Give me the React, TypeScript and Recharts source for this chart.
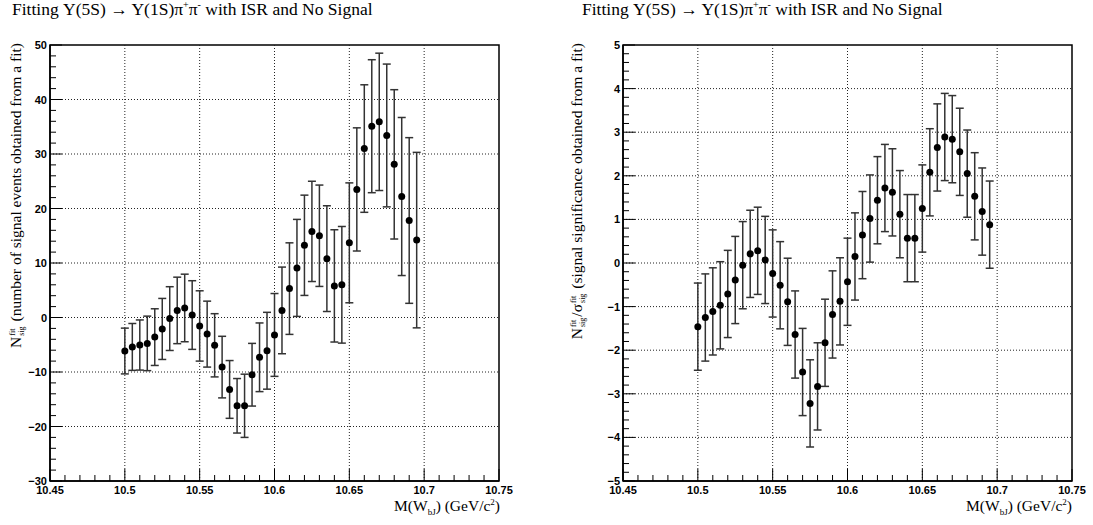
import React from "react";
import {
  ScatterChart,
  Scatter,
  XAxis,
  YAxis,
  ErrorBar,
  ReferenceLine,
  ReferenceArea,
} from "recharts";

// M(W_bJ) bin centres
const massBins = [
  10.5, 10.505, 10.51, 10.515, 10.52, 10.525, 10.53, 10.535, 10.54, 10.545,
  10.55, 10.555, 10.56, 10.565, 10.57, 10.575, 10.58, 10.585, 10.59, 10.595,
  10.6, 10.605, 10.61, 10.615, 10.62, 10.625, 10.63, 10.635, 10.64, 10.645,
  10.65, 10.655, 10.66, 10.665, 10.67, 10.675, 10.68, 10.685, 10.69, 10.695,
];

// N_sig^fit
const nsigValues = [
  -6.15, -5.4, -5.05, -4.75, -3.6, -2.1, -0.2, 1.3, 1.75, 0.45,
  -1.55, -3.05, -5.1, -9.1, -13.2, -16.2, -16.2, -10.5, -7.3, -6.1,
  -3.2, 1.3, 5.3, 9.1, 13.25, 15.8, 15.0, 10.8, 5.8, 6.0,
  13.7, 23.5, 31.0, 35.1, 35.9, 33.4, 28.1, 22.2, 17.8, 14.2,
];
const nsigErrors = [
  4.2, 4.3, 4.6, 5.0, 5.2, 5.6, 5.85, 6.1, 6.2, 6.3,
  6.45, 6.05, 5.8, 5.65, 5.3, 5.0, 5.8, 5.75, 6.3, 7.05,
  7.6, 7.95, 8.4, 8.9, 9.2, 9.2, 9.3, 9.7, 10.3, 10.7,
  11.0, 11.3, 11.7, 12.2, 12.6, 13.1, 13.7, 14.5, 15.2, 16.1,
];

// N_sig^fit / sigma_sig^fit
const signifValues = [
  -1.46, -1.25, -1.11, -0.97, -0.71, -0.39, -0.05, 0.21, 0.28, 0.07,
  -0.24, -0.51, -0.89, -1.64, -2.5, -3.22, -2.83, -1.83, -1.18, -0.88,
  -0.43, 0.15, 0.64, 1.02, 1.44, 1.72, 1.62, 1.12, 0.57, 0.57,
  1.25, 2.08, 2.65, 2.89, 2.84, 2.55, 2.05, 1.53, 1.18, 0.88,
];
const signifErrors = [
  1, 1, 1, 1, 1, 1, 1, 1, 1, 1,
  1, 1, 1, 1, 1, 1, 1, 1, 1, 1,
  1, 1, 1, 1, 1, 1, 1, 1, 1, 1,
  1, 1, 1, 1, 1, 1, 1, 1, 1, 1,
];

const xMajorTicks = [10.45, 10.5, 10.55, 10.6, 10.65, 10.7, 10.75];
const nsigMajorTicks = [-30, -20, -10, 0, 10, 20, 30, 40, 50];
const signifMajorTicks = [-5, -4, -3, -2, -1, 0, 1, 2, 3, 4, 5];

const SERIF = "'Liberation Serif', 'Times New Roman', serif";
const SANS = "'Liberation Sans', Arial, sans-serif";

// ROOT-style axis: 5 minor divisions between majors
function withMinor(majors: number[]) {
  const out: number[] = [];
  for (let i = 0; i < majors.length - 1; i++) {
    const step = (majors[i + 1] - majors[i]) / 5;
    for (let k = 0; k < 5; k++) out.push(Number((majors[i] + k * step).toFixed(4)));
  }
  out.push(majors[majors.length - 1]);
  return out;
}

const isMajor = (majors: number[], v: number) =>
  majors.some((m) => Math.abs(m - v) < 1e-6);

const fmt = (v: number) => (v < 0 ? "\u2212" + String(-v) : String(v));

function makeXTick(majors: number[]) {
  return (props: any) => {
    const { x, y, payload } = props;
    const major = isMajor(majors, payload.value);
    return (
      <g>
        <line x1={x} x2={x} y1={y} y2={y - (major ? 12 : 6)} stroke="#000" />
        {major && (
          <text
            x={x}
            y={y + 13}
            textAnchor="middle"
            fontFamily={SANS}
            fontWeight="bold"
            fontSize={11}
            fill="#000"
          >
            {fmt(payload.value)}
          </text>
        )}
      </g>
    );
  };
}

function makeYTick(majors: number[]) {
  return (props: any) => {
    const { x, y, payload } = props;
    const major = isMajor(majors, payload.value);
    return (
      <g>
        <line x1={x} x2={x + (major ? 12 : 6)} y1={y} y2={y} stroke="#000" />
        {major && (
          <text
            x={x - 3}
            y={y + 4}
            textAnchor="end"
            fontFamily={SANS}
            fontWeight="bold"
            fontSize={11}
            fill="#000"
          >
            {fmt(payload.value)}
          </text>
        )}
      </g>
    );
  };
}

const Dot = (p: any) => <circle cx={p.cx} cy={p.cy} r={3.5} fill="#000" />;

function Stack({ sup, sub }: { sup: string; sub: string }) {
  return (
    <span
      style={{
        display: "inline-flex",
        flexDirection: "column",
        fontSize: 8,
        lineHeight: "9px",
        verticalAlign: "6px",
        marginLeft: 1,
        marginRight: 1,
      }}
    >
      <span>{sup}</span>
      <span>{sub}</span>
    </span>
  );
}

function Panel({
  left,
  values,
  errors,
  yMajors,
}: {
  left: number;
  values: number[];
  errors: number[];
  yMajors: number[];
}) {
  const data = massBins.map((x, i) => ({ x, y: values[i], err: errors[i] }));
  const yMin = yMajors[0];
  const yMax = yMajors[yMajors.length - 1];
  return (
    <div style={{ position: "absolute", left, top: 0 }}>
      <ScatterChart
        width={520}
        height={525}
        margin={{ top: 45, right: 21, bottom: 0, left: 0 }}
      >
        <XAxis
          type="number"
          dataKey="x"
          domain={[10.45, 10.75]}
          ticks={withMinor(xMajorTicks)}
          interval={0}
          tickSize={0}
          tickMargin={0}
          height={44}
          axisLine={{ stroke: "#000", strokeWidth: 1.5 }}
          tick={makeXTick(xMajorTicks)}
          allowDataOverflow
        />
        <YAxis
          type="number"
          dataKey="y"
          domain={[yMin, yMax]}
          ticks={withMinor(yMajors)}
          interval={0}
          tickSize={0}
          tickMargin={0}
          width={50}
          axisLine={{ stroke: "#000", strokeWidth: 1.5 }}
          tick={makeYTick(yMajors)}
          allowDataOverflow
        />
        {xMajorTicks.slice(1, -1).map((v) => (
          <ReferenceLine
            key={"gx" + v}
            x={v}
            stroke="#222"
            strokeDasharray="1 2"
          />
        ))}
        {yMajors.slice(1, -1).map((v) => (
          <ReferenceLine
            key={"gy" + v}
            y={v}
            stroke="#222"
            strokeDasharray="1 2"
          />
        ))}
        <ReferenceArea
          x1={10.45}
          x2={10.75}
          y1={yMin}
          y2={yMax}
          fill="none"
          stroke="#000"
          strokeWidth={1.5}
        />
        <Scatter data={data} shape={Dot} isAnimationActive={false}>
          <ErrorBar
            dataKey="err"
            direction="y"
            width={4}
            stroke="#333"
            strokeWidth={1.5}
            isAnimationActive={false}
          />
        </Scatter>
      </ScatterChart>
    </div>
  );
}

const titleStyle: React.CSSProperties = {
  position: "absolute",
  top: 0,
  fontFamily: SERIF,
  fontSize: 17.5,
  lineHeight: "18px",
  whiteSpace: "nowrap",
  color: "#000",
};

const supStyle: React.CSSProperties = { fontSize: 10, lineHeight: 0 };

function Title({ left }: { left: number }) {
  return (
    <div style={{ ...titleStyle, left }}>
      Fitting {"\u03A5"}(5S) {"\u2192"} {"\u03A5"}(1S)
      {"\u03C0"}
      <sup style={supStyle}>+</sup>
      {"\u03C0"}
      <sup style={supStyle}>-</sup> with ISR and No Signal
    </div>
  );
}

function YTitle({ cx, children }: { cx: number; children: React.ReactNode }) {
  return (
    <div
      style={{
        position: "absolute",
        left: cx,
        top: 43,
        transformOrigin: "0 0",
        transform: "rotate(-90deg) translate(-100%, -50%)",
        fontFamily: SERIF,
        fontSize: 15.5,
        whiteSpace: "nowrap",
        lineHeight: "20px",
      }}
    >
      {children}
    </div>
  );
}

function XTitle({ right }: { right: number }) {
  return (
    <div
      style={{
        position: "absolute",
        left: right,
        top: 497,
        transform: "translateX(-100%)",
        fontFamily: SERIF,
        fontSize: 15.5,
        whiteSpace: "nowrap",
      }}
    >
      M(W<sub style={{ fontSize: 9 }}>bJ</sub>) (GeV/c
      <sup style={{ fontSize: 9 }}>2</sup>)
    </div>
  );
}

export default function App() {
  return (
    <div
      style={{
        position: "absolute",
        left: 0,
        top: 0,
        width: 1093,
        height: 525,
        background: "#fff",
        overflow: "hidden",
      }}
    >
      <Panel left={0} values={nsigValues} errors={nsigErrors} yMajors={nsigMajorTicks} />
      <Panel
        left={573}
        values={signifValues}
        errors={signifErrors}
        yMajors={signifMajorTicks}
      />
      <Title left={12} />
      <Title left={582} />
      <YTitle cx={16}>
        N<Stack sup="fit" sub="sig" /> (number of signal events obtained from a fit)
      </YTitle>
      <YTitle cx={577}>
        N<Stack sup="fit" sub="sig" />/{"\u03C3"}
        <Stack sup="fit" sub="sig" /> (signal significance obtained from a fit)
      </YTitle>
      <XTitle right={500} />
      <XTitle right={1072} />
    </div>
  );
}
